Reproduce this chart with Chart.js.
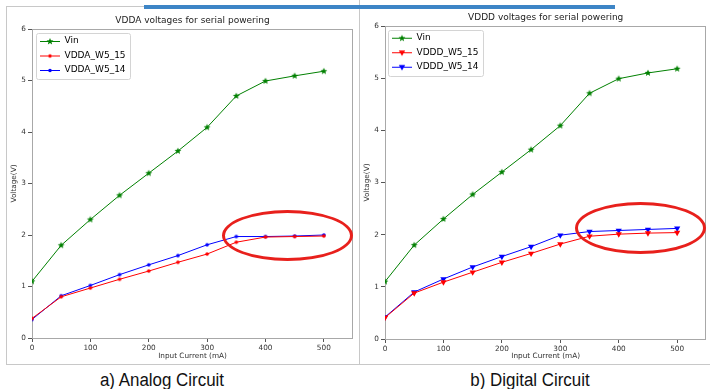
<!DOCTYPE html>
<html>
<head>
<meta charset="utf-8">
<script src="https://cdn.jsdelivr.net/npm/chart.js@4.4.1/dist/chart.umd.min.js"></script>
<style>
  html, body { margin: 0; padding: 0; background: #fff; }
  #page { position: relative; width: 710px; height: 389px; overflow: hidden; }
  .abs { position: absolute; }
  .frame { box-sizing: border-box; border: 1px solid #c8c8c8; }
  .ellipse { box-sizing: border-box; border: 3px solid #e8201c; border-radius: 50%; }
  .caption { font-family: "Liberation Sans", Arial, sans-serif; font-size: 18px; line-height: 18px; color: #111; text-align: center; width: 220px; transform: scaleX(0.94); }
</style>
</head>
<body>
<div id="page">
  <div class="abs frame" style="left:6px; top:6px; width:354px; height:359px;"></div>
  <div class="abs" style="left:359px; top:0; width:1px; height:365px; background:#c8c8c8;"></div>
  <div class="abs" style="left:359px; top:364px; width:351px; height:1px; background:#c8c8c8;"></div>
  <div class="abs" style="left:144px; top:5px; width:471px; height:4px; background:#3d85c6;"></div>

  <canvas id="analog" class="abs" width="359" height="364" style="left:0; top:0;"></canvas>
  <canvas id="digital" class="abs" width="351" height="364" style="left:359px; top:0;"></canvas>

  <div class="abs ellipse" style="left:222px; top:210px; width:131px; height:51px;"></div>
  <div class="abs ellipse" style="left:575px; top:202px; width:131px; height:52px;"></div>

  <div class="abs caption" style="left:52px; top:371px;">a) Analog Circuit</div>
  <div class="abs caption" style="left:420px; top:371px;">b) Digital Circuit</div>
</div>

<script>
// input current (mA)
const currentMA = [0, 50, 100, 150, 200, 250, 300, 350, 400, 450, 500];

// analog side (V)
const vinAnalog = [1.10, 1.80, 2.30, 2.77, 3.20, 3.63, 4.09, 4.70, 4.99, 5.09, 5.18];
const vddaW5_15 = [0.38, 0.80, 0.97, 1.14, 1.30, 1.47, 1.63, 1.86, 1.96, 1.97, 1.98];
const vddaW5_14 = [0.36, 0.82, 1.02, 1.23, 1.42, 1.60, 1.81, 1.97, 1.97, 1.98, 2.00];

// digital side (V)
const vinDigital = [1.10, 1.80, 2.30, 2.77, 3.20, 3.63, 4.09, 4.71, 4.99, 5.10, 5.18];
const vdddW5_15 = [0.41, 0.88, 1.09, 1.28, 1.47, 1.64, 1.82, 1.97, 2.01, 2.03, 2.04];
const vdddW5_14 = [0.42, 0.90, 1.15, 1.38, 1.58, 1.77, 1.99, 2.06, 2.08, 2.10, 2.12];

const GREEN = '#008000';
const RED = '#ff0000';
const BLUE = '#0000ff';
const FONT = 'DejaVu Sans';

function points(ys) {
  return currentMA.map((x, i) => ({ x: x, y: ys[i] }));
}

function drawMarker(g, kind, color, cx, cy) {
  g.fillStyle = color;
  g.beginPath();
  if (kind === 'star') {
    const r = 3.6;
    for (let i = 0; i < 10; i++) {
      const a = -Math.PI / 2 + i * Math.PI / 5;
      const rr = i % 2 ? r * 0.45 : r;
      g.lineTo(cx + rr * Math.cos(a), cy + rr * Math.sin(a));
    }
  } else if (kind === 'dot') {
    g.arc(cx, cy, 1.8, 0, Math.PI * 2);
  } else {
    g.moveTo(cx - 3.2, cy - 2.2);
    g.lineTo(cx + 3.2, cy - 2.2);
    g.lineTo(cx, cy + 3.2);
  }
  g.closePath();
  g.fill();
}

function markerImage(kind, color) {
  const c = document.createElement('canvas');
  c.width = 10; c.height = 10;
  drawMarker(c.getContext('2d'), kind, color, 5, 5);
  return c;
}

// line with a marker in the middle, like a matplotlib legend handle
function handleImage(kind, color) {
  const c = document.createElement('canvas');
  c.width = 20; c.height = 10;
  const g = c.getContext('2d');
  g.strokeStyle = color;
  g.lineWidth = 1;
  g.beginPath();
  g.moveTo(0, 5.5); g.lineTo(20, 5.5);
  g.stroke();
  drawMarker(g, kind, color, 10, 5.5);
  return c;
}

function series(label, ys, color, kind) {
  const ds = {
    label: label,
    data: points(ys),
    borderColor: color,
    backgroundColor: color,
    borderWidth: 1,
    pointRadius: 3,
    pointHoverRadius: 3,
    pointBorderWidth: 0,
    tension: 0,
    legendIcon: handleImage(kind, color)
  };
  if (kind === 'tri') {
    ds.pointStyle = 'triangle';
    ds.pointRotation = 180;
    ds.pointRadius = 3.6;
  } else {
    ds.pointStyle = markerImage(kind, color);
  }
  return ds;
}

const panelPlugin = {
  id: 'panel',
  afterLayout(chart, args, opts) {
    const lg = chart.legend;
    lg.left = opts.legendX;
    lg.top = opts.legendY;
  },
  beforeDraw(chart) {
    const hb = chart.legend.legendHitBoxes;
    if (!hb || !hb.length) return;
    let l = Infinity, t = Infinity, r = -Infinity, b = -Infinity;
    hb.forEach(h => {
      l = Math.min(l, h.left); t = Math.min(t, h.top);
      r = Math.max(r, h.left + h.width); b = Math.max(b, h.top + h.height);
    });
    const ctx = chart.ctx;
    ctx.save();
    ctx.beginPath();
    ctx.roundRect(Math.round(l - 4) + 0.5, Math.round(t - 3.5) + 0.5, Math.round(r - l + 8), Math.round(b - t + 8), 2);
    ctx.fillStyle = 'rgba(255,255,255,0.8)';
    ctx.fill();
    ctx.strokeStyle = '#d4d4d4';
    ctx.lineWidth = 1;
    ctx.stroke();
    ctx.restore();
  },
  beforeDatasetsDraw(chart) {
    const a = chart.chartArea;
    const ctx = chart.ctx;
    ctx.save();
    ctx.strokeStyle = '#a8a8a8';
    ctx.lineWidth = 1;
    ctx.strokeRect(Math.round(a.left) + 0.5, Math.round(a.top) + 0.5, Math.round(a.right - a.left) - 1, Math.round(a.bottom - a.top));
    ctx.restore();
  }
};

function makeChart(id, cfg) {
  const tickFont = { family: FONT, size: 7.3 };
  new Chart(document.getElementById(id), {
    type: 'line',
    data: { datasets: cfg.datasets },
    options: {
      responsive: false,
      animation: false,
      events: [],
      layout: { padding: { left: 0, right: cfg.padRight, top: 0, bottom: 0 } },
      scales: {
        x: {
          type: 'linear',
          min: 0,
          max: 550,
          afterFit: s => { s.height = cfg.xHeight; },
          border: { display: false },
          grid: { drawOnChartArea: false, tickLength: 4, color: '#555' },
          ticks: { stepSize: 100, includeBounds: false, padding: 2, color: '#333', font: tickFont, maxRotation: 0 },
          title: { display: true, text: 'Input Current (mA)', color: '#333', font: tickFont, padding: { top: 0, bottom: 3.6 } }
        },
        y: {
          min: 0,
          max: 6,
          afterFit: s => { s.width = cfg.yWidth; },
          border: { display: false },
          grid: { drawOnChartArea: false, tickLength: 4, color: '#555' },
          ticks: { stepSize: 1, padding: 2, color: '#333', font: tickFont },
          title: { display: true, text: 'Voltage(V)', color: '#333', font: tickFont, padding: { top: cfg.yTitlePad, bottom: 0 } }
        }
      },
      plugins: {
        title: {
          display: true,
          fullSize: false,
          text: cfg.title,
          color: '#222',
          font: { family: FONT, size: 9, weight: 'normal' },
          padding: { top: cfg.titlePadTop, bottom: cfg.titlePadBottom }
        },
        legend: {
          position: 'chartArea',
          align: 'start',
          labels: {
            usePointStyle: true,
            pointStyleWidth: 20,
            padding: 5.5,
            color: '#222',
            font: { family: FONT, size: 9 },
            generateLabels: chart => chart.data.datasets.map((ds, i) => ({
              text: ds.label,
              pointStyle: ds.legendIcon,
              fillStyle: ds.borderColor,
              strokeStyle: ds.borderColor,
              lineWidth: 0,
              hidden: false,
              datasetIndex: i
            }))
          }
        },
        tooltip: { enabled: false },
        panel: { legendX: cfg.legendX, legendY: cfg.legendY }
      }
    },
    plugins: [panelPlugin]
  });
}

makeChart('analog', {
  title: 'VDDA voltages for serial powering',
  datasets: [
    series('Vin', vinAnalog, GREEN, 'star'),
    series('VDDA_W5_15', vddaW5_15, RED, 'dot'),
    series('VDDA_W5_14', vddaW5_14, BLUE, 'dot')
  ],
  padRight: 6, xHeight: 26, yWidth: 32, yTitlePad: 9.6,
  titlePadTop: 15.6, titlePadBottom: 2.6,
  legendX: 34.5, legendY: 31
});

makeChart('digital', {
  title: 'VDDD voltages for serial powering',
  datasets: [
    series('Vin', vinDigital, GREEN, 'star'),
    series('VDDD_W5_15', vdddW5_15, RED, 'tri'),
    series('VDDD_W5_14', vdddW5_14, BLUE, 'tri')
  ],
  padRight: 2, xHeight: 25, yWidth: 26, yTitlePad: 3.3,
  titlePadTop: 12, titlePadBottom: 3.2,
  legendX: 27.5, legendY: 27.7
});
</script>
</body>
</html>
